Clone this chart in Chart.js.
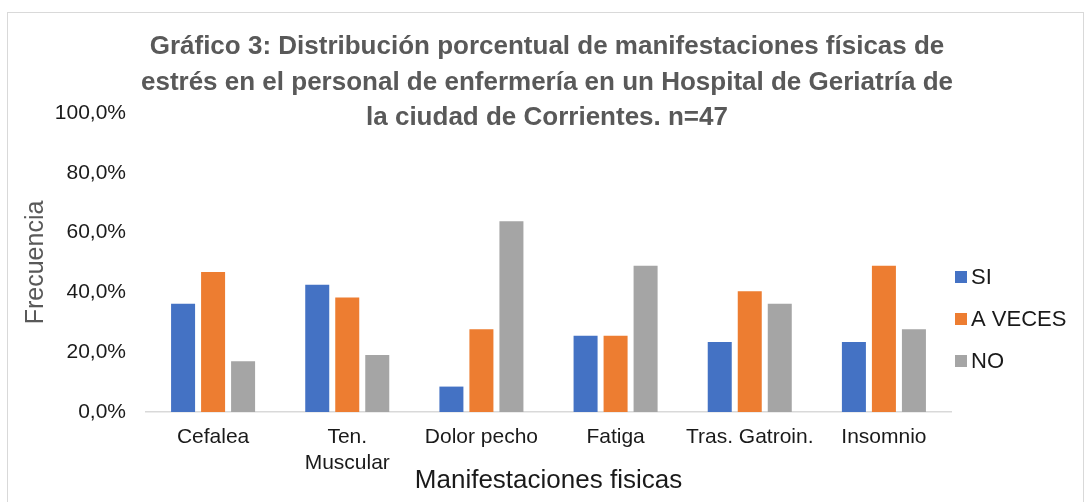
<!DOCTYPE html>
<html>
<head>
<meta charset="utf-8">
<script src="https://cdn.jsdelivr.net/npm/chart.js@4.4.0/dist/chart.umd.min.js"></script>
<style>
  body { margin: 0; background: #fff; }
  #wrap { position: relative; width: 1089px; height: 502px; }
  #frame { position: absolute; left: 7px; top: 12px; width: 1077px; height: 500px; border: 1px solid #d9d9d9; box-sizing: border-box; pointer-events: none; }
</style>
</head>
<body>
<div id="wrap">
  <canvas id="chart" width="1089" height="502"></canvas>
  <div id="frame"></div>
</div>
<script>
// data (n=47, values in %)
const categories = ['Cefalea', ['Ten.', 'Muscular'], 'Dolor pecho', 'Fatiga', 'Tras. Gatroin.', 'Insomnio'];
const siValues = [36.2, 42.6, 8.5, 25.5, 23.4, 23.4];
const aVecesValues = [46.8, 38.3, 27.7, 25.5, 40.4, 48.9];
const noValues = [17.0, 19.1, 63.8, 48.9, 36.2, 27.7];
const yTicks = [0, 20, 40, 60, 80, 100];
const titleLines = [
  'Gráfico 3: Distribución porcentual de manifestaciones físicas de',
  'estrés en el personal de enfermería en un Hospital de Geriatría de',
  'la ciudad de Corrientes. n=47'
];

const fontFamily = '"Liberation Sans", Arial, sans-serif';

/**
 * Title + legend drawn by hand so they sit where Excel put them
 */
const titlePlugin = {
  id: 'excelTitle',
  afterDraw(chart) {
    const ctx = chart.ctx;
    ctx.save();
    ctx.fillStyle = '#595959';
    ctx.font = 'bold 26px ' + fontFamily;
    ctx.textAlign = 'center';
    ctx.textBaseline = 'middle';
    titleLines.forEach((line, i) => {
      ctx.fillText(line, 547, 47 + i * 35.5);
    });
    ctx.restore();
  }
};

const legendPlugin = {
  id: 'excelLegend',
  afterDraw(chart) {
    const ctx = chart.ctx;
    ctx.save();
    ctx.font = '22px ' + fontFamily;
    ctx.textBaseline = 'middle';
    chart.data.datasets.forEach((ds, i) => {
      const y = 277 + i * 42;
      ctx.fillStyle = ds.backgroundColor;
      ctx.fillRect(955, y - 6, 12, 12);
      ctx.fillStyle = '#1a1a1a';
      ctx.fillText(ds.label, 971, y + 1);
    });
    ctx.restore();
  }
};

const ctx = document.getElementById('chart').getContext('2d');
const chart = new Chart(ctx, {
  type: 'bar',
  data: {
    labels: categories,
    datasets: [{
      label: 'SI',
      data: siValues,
      backgroundColor: '#4472C4'
    },
    {
      label: 'A VECES',
      data: aVecesValues,
      backgroundColor: '#ED7D31'
    },
    {
      label: 'NO',
      data: noValues,
      backgroundColor: '#A5A5A5'
    }]
  },
  options: {
    responsive: false,
    animation: false,
    datasets: {
      bar: {
        categoryPercentage: 0.671,
        barPercentage: 0.8,
        borderWidth: 0
      }
    },
    layout: {
      padding: { top: 113, right: 138, bottom: 6, left: 0 }
    },
    plugins: {
      legend: { display: false },
      title: { display: false },
      tooltip: { enabled: false }
    },
    scales: {
      x: {
        afterFit(scale) {
          scale.height = 84;
        },
        grid: { display: false },
        border: { color: '#d9d9d9', width: 1.5 },
        ticks: {
          color: '#1a1a1a',
          font: { family: fontFamily, size: 21 },
          maxRotation: 0,
          autoSkip: false,
          padding: 5
        },
        title: {
          display: true,
          text: 'Manifestaciones fisicas',
          color: '#1a1a1a',
          font: { family: fontFamily, size: 26 },
          padding: { top: 0, bottom: 0 }
        }
      },
      y: {
        min: 0,
        max: 100,
        afterBuildTicks(scale) {
          scale.ticks = yTicks.map(v => ({ value: v }));
        },
        afterFit(scale) {
          scale.width = 146;
        },
        grid: { display: false },
        border: { display: false },
        ticks: {
          color: '#1a1a1a',
          font: { family: fontFamily, size: 21 },
          padding: 12,
          callback: v => v.toFixed(1).replace('.', ',') + '%'
        },
        title: {
          display: true,
          text: 'Frecuencia',
          color: '#595959',
          font: { family: fontFamily, size: 25 },
          padding: { top: 21, bottom: 0 }
        }
      }
    }
  },
  plugins: [titlePlugin, legendPlugin]
});
</script>
</body>
</html>
